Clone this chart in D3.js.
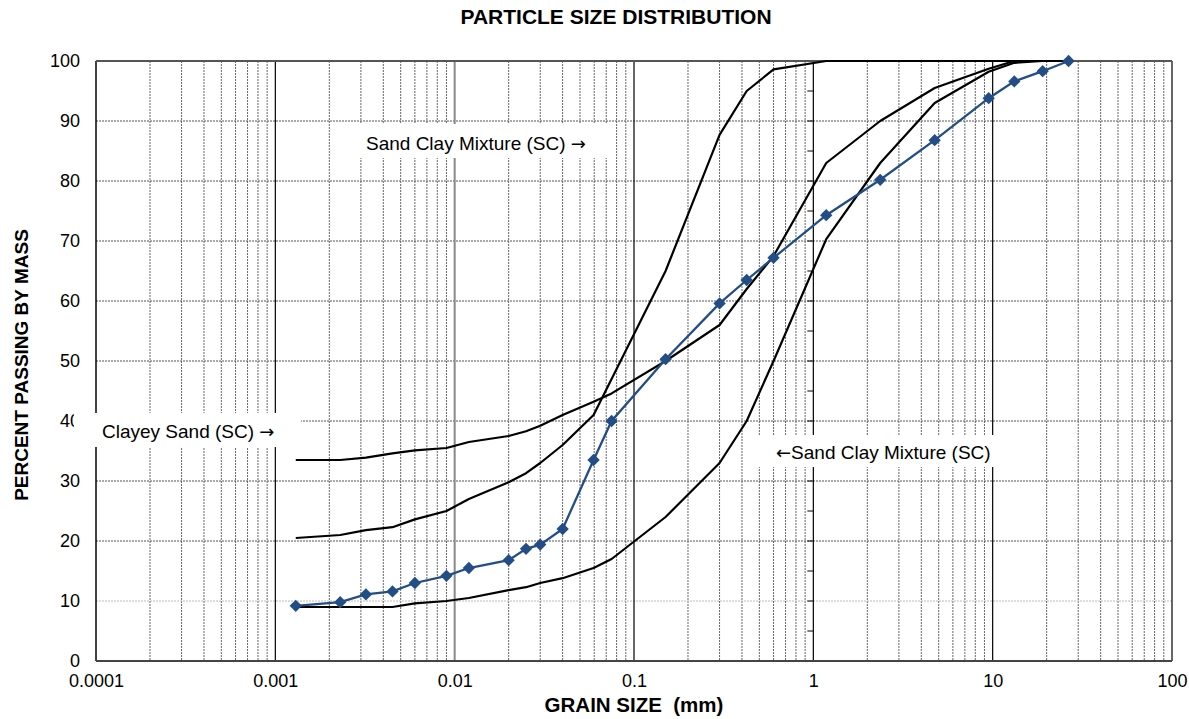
<!DOCTYPE html>
<html>
<head>
<meta charset="utf-8">
<script src="https://cdn.jsdelivr.net/npm/d3@7"></script>
<style>
  body { margin: 0; background: #fff; }
  svg { font-family: "Liberation Sans", Arial, sans-serif; }
</style>
</head>
<body>
<svg id="chart" width="1189" height="719"></svg>
<script>
// sieve / hydrometer sizes (mm)
var sizes = [0.0013, 0.0023, 0.0032, 0.0045, 0.006, 0.009, 0.012, 0.020, 0.025, 0.030, 0.040, 0.0595,
    0.075, 0.15, 0.30, 0.425, 0.60, 1.18, 2.36, 4.75, 9.5, 13.2, 19.0, 26.5];

// sample curve (percent passing)
var sample = [9.2, 9.8, 11.1, 11.6, 13.0, 14.2, 15.5, 16.8, 18.7, 19.4, 22.0, 33.5,
    40.0, 50.3, 59.6, 63.5, 67.2, 74.3, 80.2, 86.8, 93.8, 96.6, 98.3, 100];

// envelope curves
var envUpper = [33.5, 33.5, 33.9, 34.6, 35.1, 35.5, 36.5, 37.5, 38.3, 39.2, 41.0, 43.2,
    44.6, 50.0, 56.0, 62.0, 67.5, 83.0, 90.0, 95.5, 98.7, 100, 100, 100];
var envMiddle = [20.5, 21.0, 21.8, 22.3, 23.6, 25.0, 27.0, 29.8, 31.3, 33.0, 36.0, 41.0,
    47.0, 65.0, 87.7, 95.0, 98.6, 100, 100, 100, 100, 100, 100, 100];
var envLower = [9.0, 9.0, 9.0, 9.0, 9.6, 10.0, 10.5, 11.8, 12.3, 13.0, 13.8, 15.5,
    17.0, 24.0, 33.0, 40.0, 50.0, 70.3, 83.0, 93.0, 98.2, 99.7, 100, 100];

var xTicks = [0.0001, 0.001, 0.01, 0.1, 1, 10, 100];
var xTickLabels = ["0.0001", "0.001", "0.01", "0.1", "1", "10", "100"];
var yTicks = [0, 10, 20, 30, 40, 50, 60, 70, 80, 90, 100];

var svg = d3.select("#chart");
var pLeft = 96, pRight = 1172, pTop = 61, pBottom = 661;

var x = d3.scaleLog().domain([0.0001, 100]).range([pLeft, pRight]);
var y = d3.scaleLinear().domain([0, 100]).range([pBottom, pTop]);

// minor vertical grid
var minor = [];
for (var k = -4; k < 2; k++) {
    for (var m = 2; m <= 9; m++) minor.push(m * Math.pow(10, k));
}
svg.append("g").selectAll("line").data(minor).enter().append("line")
    .attr("x1", function (d) { return x(d); })
    .attr("x2", function (d) { return x(d); })
    .attr("y1", pTop).attr("y2", pBottom)
    .attr("stroke", "#666").attr("stroke-width", 1)
    .attr("stroke-dasharray", "2,1");

// horizontal grid
svg.append("g").selectAll("line").data(yTicks.slice(1, 10)).enter().append("line")
    .attr("x1", pLeft).attr("x2", pRight)
    .attr("y1", function (d) { return y(d); })
    .attr("y2", function (d) { return y(d); })
    .attr("stroke", function (d) { return d == 10 ? "#bbb" : "#555"; })
    .attr("stroke-width", 1)
    .attr("stroke-dasharray", "2,1");

// major vertical lines
svg.append("g").selectAll("line").data(xTicks.slice(1)).enter().append("line")
    .attr("x1", function (d) { return x(d); })
    .attr("x2", function (d) { return x(d); })
    .attr("y1", pTop).attr("y2", pBottom)
    .attr("stroke", function (d) { return d == 0.01 ? "#888" : "#000"; })
    .attr("stroke-width", function (d) { return d == 0.01 ? 2 : 1.2; });

// ticks on the vertical line at 1 mm
svg.append("g").selectAll("line").data(d3.range(0, 101, 5)).enter().append("line")
    .attr("x1", x(1) - 6).attr("x2", x(1))
    .attr("y1", function (d) { return y(d); })
    .attr("y2", function (d) { return y(d); })
    .attr("stroke", "#000").attr("stroke-width", 1);

// frame
svg.append("line").attr("x1", pLeft).attr("x2", pLeft).attr("y1", pTop).attr("y2", pBottom)
    .attr("stroke", "#000").attr("stroke-width", 1.5);
svg.append("line").attr("x1", pLeft).attr("x2", pRight).attr("y1", pTop).attr("y2", pTop)
    .attr("stroke", "#555").attr("stroke-width", 2);
svg.append("line").attr("x1", pLeft).attr("x2", pRight).attr("y1", pBottom).attr("y2", pBottom)
    .attr("stroke", "#444").attr("stroke-width", 2);

// axis labels
var yAxis = svg.append("g").attr("transform", "translate(" + pLeft + ",0)")
    .call(d3.axisLeft(y).tickValues(yTicks).tickSize(0).tickPadding(16));
yAxis.select(".domain").remove();
yAxis.selectAll("text").attr("font-size", 18).attr("fill", "#000")
    .attr("font-family", "Liberation Sans, Arial, sans-serif");

var xAxis = svg.append("g").attr("transform", "translate(0," + pBottom + ")")
    .call(d3.axisBottom(x).tickValues(xTicks).tickSize(0).tickPadding(13)
        .tickFormat(function (d, i) { return xTickLabels[i]; }));
xAxis.select(".domain").remove();
xAxis.selectAll("text").attr("font-size", 18).attr("fill", "#000")
    .attr("font-family", "Liberation Sans, Arial, sans-serif");

// label boxes (hide grid behind)
var notes = [
    { pre: "", main: "Clayey Sand (SC) ", post: "\u2192", bx: 74, by: 413, bw: 227, bh: 34, tx: 102, ty: 438 },
    { pre: "", main: "Sand Clay Mixture (SC) ", post: "\u2192", bx: 355, by: 124, bw: 258, bh: 34, tx: 366, ty: 150 },
    { pre: "\u2190", main: "Sand Clay Mixture (SC)", post: "", bx: 757, by: 435, bw: 246, bh: 32, tx: 776, ty: 459 }
];
var box = svg.append("g").selectAll("g").data(notes).enter().append("g");
box.append("rect")
    .attr("x", function (d) { return d.bx; }).attr("y", function (d) { return d.by; })
    .attr("width", function (d) { return d.bw; }).attr("height", function (d) { return d.bh; })
    .attr("fill", "#fff");
var noteText = box.append("text")
    .attr("x", function (d) { return d.tx; }).attr("y", function (d) { return d.ty; })
    .attr("font-size", 19).attr("fill", "#000")
    .attr("xml:space", "preserve");
noteText.append("tspan").attr("font-family", "DejaVu Sans").attr("font-size", 18)
    .text(function (d) { return d.pre; });
noteText.append("tspan").text(function (d) { return d.main; });
noteText.append("tspan").attr("font-family", "DejaVu Sans").attr("font-size", 18)
    .text(function (d) { return d.post; });

// curves
var line = d3.line()
    .x(function (d) { return x(d[0]); })
    .y(function (d) { return y(d[1]); });

[envUpper, envMiddle, envLower].forEach(function (vals) {
    svg.append("path")
        .datum(d3.zip(sizes, vals))
        .attr("d", line)
        .attr("fill", "none")
        .attr("stroke", "#000")
        .attr("stroke-width", 2.2)
        .attr("stroke-linejoin", "round");
});

var pts = d3.zip(sizes, sample);
svg.append("path")
    .datum(pts)
    .attr("d", line)
    .attr("fill", "none")
    .attr("stroke", "#234E85")
    .attr("stroke-width", 2.3);

// square markers turned 45 degrees
svg.append("g").selectAll("path").data(pts).enter().append("path")
    .attr("d", d3.symbol().type(d3.symbolSquare).size(76))
    .attr("transform", function (d) { return "translate(" + x(d[0]) + "," + y(d[1]) + ") rotate(45)"; })
    .attr("fill", "#234E85");

// titles
svg.append("text").attr("x", 616).attr("y", 24).attr("text-anchor", "middle")
    .attr("font-size", 21).attr("font-weight", "bold")
    .text("PARTICLE SIZE DISTRIBUTION");

svg.append("text").attr("x", 634).attr("y", 712).attr("text-anchor", "middle")
    .attr("font-size", 20.5).attr("font-weight", "bold")
    .attr("xml:space", "preserve")
    .text("GRAIN SIZE  (mm)");

svg.append("text")
    .attr("transform", "translate(28,365) rotate(-90)")
    .attr("text-anchor", "middle")
    .attr("font-size", 19).attr("font-weight", "bold")
    .text("PERCENT PASSING BY MASS");
</script>
</body>
</html>
